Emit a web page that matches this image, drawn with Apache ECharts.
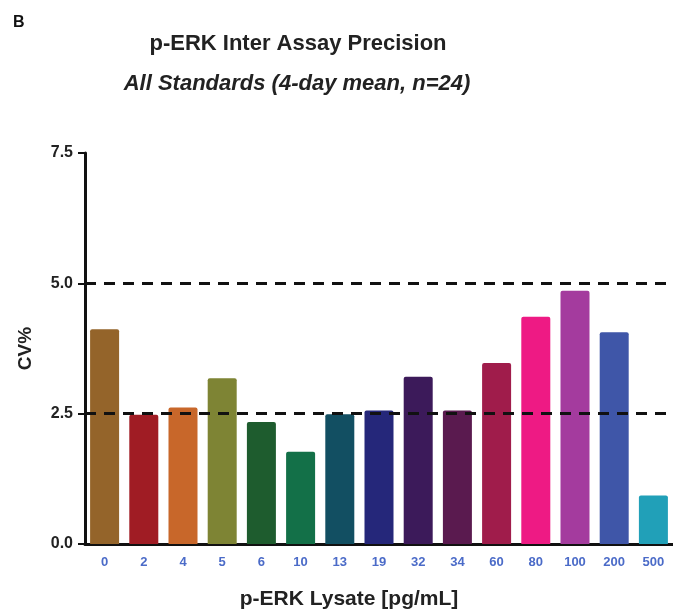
<!DOCTYPE html>
<html><head><meta charset="utf-8">
<script src="https://cdn.jsdelivr.net/npm/echarts@6/dist/echarts.min.js"></script>
<style>html,body{margin:0;padding:0;background:#fff}#c{width:673px;height:612px}</style>
</head><body><div id="c"></div>
<script>
const categories = ['0','2','4','5','6','10','13','19','32','34','60','80','100','200','500'];
const cvValues = [4.12, 2.48, 2.62, 3.18, 2.34, 1.77, 2.49, 2.56, 3.21, 2.56, 3.47, 4.36, 4.86, 4.06, 0.93];
const barColors = ['#94642a','#a01c24','#c8672a','#7e8434','#1e5c2e','#137048','#124f62','#25277a','#3c1a5a','#5a1a4f','#a01c4b','#ee1a84','#a43b9e','#3f56a8','#21a0b8'];
const yTicks = [0, 2.5, 5.0, 7.5];
const refLines = [2.5, 5.0];

const chart = echarts.init(document.getElementById('c'));
chart.setOption({
  backgroundColor: '#fff',
  animation: false,
  title: [
    { text: 'B', left: 8, top: 10, textStyle: { fontFamily: 'Liberation Sans', fontSize: 16, fontWeight: 'bold', color: '#111' } },
    { text: 'p-ERK Inter Assay Precision', left: 293, top: 28, textAlign: 'center',
      textStyle: { fontFamily: 'Liberation Sans', fontSize: 22, fontWeight: 'bold', color: '#222' } },
    { text: 'All Standards (4-day mean, n=24)', left: 292, top: 68, textAlign: 'center',
      textStyle: { fontFamily: 'Liberation Sans', fontSize: 22, fontWeight: 'bold', fontStyle: 'italic', color: '#222' } },
    { text: 'p-ERK Lysate [pg/mL]', left: 344, top: 584, textAlign: 'center',
      textStyle: { fontFamily: 'Liberation Sans', fontSize: 21, fontWeight: 'bold', color: '#222' } }
  ],
  grid: { left: 85, top: 153, width: 588, height: 391, containLabel: false },
  xAxis: {
    type: 'category', data: categories, boundaryGap: true,
    axisLine: { lineStyle: { color: '#111', width: 3 } },
    axisTick: { alignWithLabel: true, length: 7, lineStyle: { color: '#111', width: 2 } },
    axisLabel: { color: '#4b6bc8', fontFamily: 'Liberation Sans', fontSize: 13, fontWeight: 'bold', margin: 12 }
  },
  yAxis: {
    type: 'value', min: 0, max: 7.5, interval: 2.5,
    name: 'CV%', nameLocation: 'middle', nameGap: 50, nameRotate: 90,
    nameTextStyle: { fontFamily: 'Liberation Sans', fontSize: 19, fontWeight: 'bold', color: '#222' },
    axisLine: { show: true, lineStyle: { color: '#111', width: 3 } },
    axisTick: { show: true, length: 7, lineStyle: { color: '#111', width: 2 } },
    splitLine: { show: false },
    axisLabel: { color: '#222', fontFamily: 'Liberation Sans', fontSize: 16, fontWeight: 'bold', margin: 12,
      formatter: v => yTicks.includes(v) ? v.toFixed(1) : '' }
  },
  series: [
    {
      type: 'line', data: [], z: 1, silent: true,
      markLine: {
        symbol: 'none', silent: true, label: { show: false },
        lineStyle: { color: '#111', width: 3, type: [11, 8] },
        data: refLines.map(v => ({ yAxis: v }))
      }
    },
    {
      type: 'bar', z: 3, barWidth: 29,
      data: cvValues.map((v, i) => ({ value: v, itemStyle: { color: barColors[i], borderRadius: [2, 2, 0, 0] } }))
    }
  ]
});
</script></body></html>
